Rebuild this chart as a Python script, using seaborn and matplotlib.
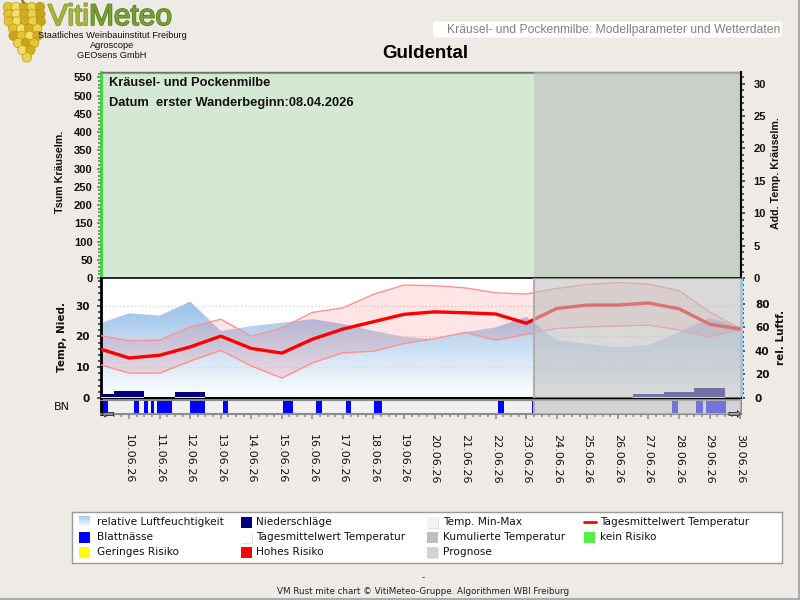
import numpy as np
import pandas as pd
import matplotlib
matplotlib.use("Agg")
import matplotlib.pyplot as plt
import seaborn as sns
from matplotlib.patches import Rectangle, FancyBboxPatch
from matplotlib.ticker import MultipleLocator
from matplotlib.lines import Line2D
from matplotlib.colors import LinearSegmentedColormap
import matplotlib.patheffects as pe

sns.set_theme(style="white")
plt.rcParams["font.family"] = ["DejaVu Sans"]

# ---------------- data ----------------
dates = ["09.06.26", "10.06.26", "11.06.26", "12.06.26", "13.06.26", "14.06.26",
         "15.06.26", "16.06.26", "17.06.26", "18.06.26", "19.06.26", "20.06.26",
         "21.06.26", "22.06.26", "23.06.26", "24.06.26", "25.06.26", "26.06.26",
         "27.06.26", "28.06.26", "29.06.26", "30.06.26"]
t_mean = [16.1, 13.0, 13.9, 16.6, 20.1, 16.1, 14.6, 19.1, 22.4, 24.8, 27.2,
          28.0, 27.7, 27.3, 24.3, 29.1, 30.2, 30.2, 30.9, 29.0, 24.0, 22.4]
t_max = [20.4, 18.6, 18.8, 23.1, 25.6, 20.1, 22.8, 27.8, 29.3, 33.7, 36.7,
         36.5, 35.8, 34.2, 33.8, 35.6, 36.9, 37.5, 37.0, 34.9, 28.0, 22.6]
t_min = [11.0, 8.1, 8.1, 12.0, 15.5, 10.4, 6.5, 11.4, 14.7, 15.2, 17.7,
         19.3, 21.3, 18.8, 20.7, 22.6, 23.1, 23.4, 23.7, 22.1, 19.9, 22.2]
humidity = [63, 72, 70, 82, 57, 61, 64, 67, 63, 57, 52,
            50, 56, 60, 69, 49, 46, 43, 45, 56, 68, 61]
precip = [1.4, 2.2, 0.0, 1.9, 0.0, 0.0, 0.0, 0.0, 0.0, 0.0, 0.0,
          0.0, 0.0, 0.0, 0.0, 0.0, 0.0, 0.0, 1.2, 1.85, 3.2, 0.0]
# leaf wetness periods (days after 09.06.26 00:00)
bn_start = [0.00, 1.15, 1.48, 1.73, 1.90, 2.99, 4.07, 6.04, 7.12, 8.10, 9.02,
            13.09, 14.20, 18.76, 19.55, 19.88]
bn_end = [0.31, 1.32, 1.62, 1.81, 2.40, 3.48, 4.23, 6.37, 7.32, 8.27, 9.28,
          13.28, 14.25, 18.96, 19.78, 20.53]
forecast_start = 14.25

days = np.arange(len(dates))
df = pd.DataFrame({"day": days, "t_mean": t_mean, "t_max": t_max,
                   "t_min": t_min, "humidity": humidity, "precip": precip})

# ---------------- style ----------------
BG = "#EEEBE7"
GREEN_FILL = "#D4E8D4"
OVER_C, OVER_A = "#C0C0C0", 0.6
XMIN, XMAX = 0.08, 21.03

fig = plt.figure(figsize=(8, 6), dpi=100, facecolor=BG)


def fx(x):
    return x / 800


def fy(y):
    return 1 - y / 600


L, R = 101, 741
ax_t = fig.add_axes([fx(L), fy(278), (R - L) / 800, 206 / 600])
ax_t2 = ax_t.twinx()
ax_m = fig.add_axes([fx(L), fy(398), (R - L) / 800, 120 / 600])
ax_h = ax_m.twinx()
ax_bn = fig.add_axes([fx(L), fy(414), (R - L) / 800, 14 / 600])

ax_m.set_zorder(3)
ax_h.set_zorder(2)
ax_m.patch.set_visible(False)
ax_h.patch.set_visible(True)
ax_h.patch.set_facecolor("white")


def style_labels(ax, axis, family, size, weight="bold", color="#111111"):
    labels = ax.get_yticklabels() if axis == "y" else ax.get_xticklabels()
    for lb in labels:
        lb.set_fontfamily(family)
        lb.set_fontsize(size)
        lb.set_fontweight(weight)
        lb.set_color(color)


# ---------------- top panel ----------------
ax_t.set_facecolor("white")
ax_t.set_xlim(XMIN, XMAX)
ax_t.set_ylim(0, 565)
ax_t2.set_ylim(0, 31.8)
ax_t.axvspan(XMIN, XMAX, color=GREEN_FILL, zorder=0, lw=0)
ax_t.axhline(561, color="#3FDC3F", lw=1.6, zorder=1)
ax_t.axvspan(forecast_start, XMAX, color=OVER_C, alpha=OVER_A, zorder=5, lw=0)
ax_t.set_xticks([])
ax_t.yaxis.set_major_locator(MultipleLocator(50))
ax_t.yaxis.set_minor_locator(MultipleLocator(10))
ax_t2.yaxis.set_major_locator(MultipleLocator(5))
ax_t2.yaxis.set_minor_locator(MultipleLocator(1))
ax_t.tick_params(axis="y", which="both", direction="out", color="#8A8A8A",
                 width=1.4, left=True)
ax_t.tick_params(axis="y", which="major", length=3, pad=3)
ax_t.tick_params(axis="y", which="minor", length=2.5)
ax_t2.tick_params(axis="y", which="both", direction="out", color="#555555",
                  width=1.4, right=True)
ax_t2.tick_params(axis="y", which="major", length=3, pad=6)
ax_t2.tick_params(axis="y", which="minor", length=2.5)
style_labels(ax_t, "y", "Liberation Sans", 8)
style_labels(ax_t2, "y", "Liberation Sans", 8)
for ax in (ax_t, ax_t2):
    for s in ax.spines.values():
        s.set_visible(False)
ax_t.spines["left"].set_visible(True)
ax_t.spines["left"].set_color("#2EE02E")
ax_t.spines["left"].set_linewidth(2)
ax_t.spines["top"].set_visible(True)
ax_t.spines["top"].set_color("#707070")
ax_t.spines["top"].set_linewidth(1)
ax_t2.spines["right"].set_visible(True)
ax_t2.spines["right"].set_color("black")
ax_t2.spines["right"].set_linewidth(1.5)

ax_t.text(0.0125, 0.945, "Kräusel- und Pockenmilbe", transform=ax_t.transAxes,
          fontfamily="Liberation Sans", fontsize=9.3, fontweight="bold",
          color="#111111", va="center", ha="left", zorder=10)
ax_t.text(0.0125, 0.848, "Datum  erster Wanderbeginn:08.04.2026",
          transform=ax_t.transAxes, fontfamily="Liberation Sans", fontsize=9.3,
          fontweight="bold", color="#111111", va="center", ha="left", zorder=10)

# ---------------- middle panel ----------------
ax_m.set_xlim(XMIN, XMAX)
ax_h.set_xlim(XMIN, XMAX)

# humidity gradient area
poly = ax_h.fill_between(df["day"], 0, df["humidity"], facecolor="none",
                         edgecolor="none")
cmap = LinearSegmentedColormap.from_list("hum", ["#FFFFFF", "#80B1E5"])
grad = np.linspace(0, 1, 256).reshape(-1, 1)
im = ax_h.imshow(grad, extent=[XMIN, XMAX, 0, 102], origin="lower",
                 aspect="auto", cmap=cmap, zorder=1, interpolation="bilinear")
im.set_clip_path(poly.get_paths()[0], transform=ax_h.transData)
ax_h.set_ylim(0, 102)
ax_h.set_xlim(XMIN, XMAX)

# grid
ax_m.set_axisbelow(True)
ax_m.set_xticks(days)
ax_m.tick_params(axis="x", length=0, labelbottom=False)
ax_m.grid(True, axis="both", color="#D6D6D6", linestyle=":", linewidth=1)

# temperature band
ax_m.fill_between(df["day"], df["t_min"], df["t_max"], color="red",
                  alpha=0.1, lw=0, zorder=2)
sns.lineplot(data=df, x="day", y="t_max", ax=ax_m, color="#FF9090", lw=1,
             zorder=3)
sns.lineplot(data=df, x="day", y="t_min", ax=ax_m, color="#FF9090", lw=1,
             zorder=3)
sns.lineplot(data=df, x="day", y="t_mean", ax=ax_m, color="#FF0000", lw=2.4,
             zorder=4)

# precipitation
ax_m.bar(df["day"], df["precip"], width=1.0, color="#000080", lw=0, zorder=5)
low_risk = np.where(df["precip"] > 0, 0.25, 0.0)
ax_m.bar(df["day"], low_risk, width=1.0, color="#FFFF40", lw=0, zorder=6)

ax_m.axvspan(forecast_start, XMAX, color=OVER_C, alpha=OVER_A, zorder=10, lw=0)
ax_m.axvline(forecast_start, color="#B0B0B0", lw=1.5, zorder=11)
ax_m.set_ylim(0, 39)
ax_m.set_xlim(XMIN, XMAX)
ax_m.set_xlabel("")
ax_m.set_ylabel("")
ax_m.set_yticks([0, 10, 20, 30])
ax_m.yaxis.set_minor_locator(MultipleLocator(2))
ax_m.tick_params(axis="y", which="both", direction="out", color="#555555",
                 width=1.4, left=True)
ax_m.tick_params(axis="y", which="major", length=3, pad=5)
ax_m.tick_params(axis="y", which="minor", length=2.5)
style_labels(ax_m, "y", "DejaVu Sans", 7.5)

ax_h.set_yticks([0, 20, 40, 60, 80])
ax_h.yaxis.set_minor_locator(MultipleLocator(4))
ax_h.tick_params(axis="y", which="both", direction="out", color="#555555",
                 width=1.4, right=True)
ax_h.tick_params(axis="y", which="major", length=3, pad=7)
ax_h.tick_params(axis="y", which="minor", length=2.5)
style_labels(ax_h, "y", "DejaVu Sans", 7.5)
ax_h.set_xticks([])

for s in ax_h.spines.values():
    s.set_visible(False)
ax_h.spines["right"].set_visible(True)
ax_h.spines["right"].set_color("#9CC3EA")
ax_h.spines["right"].set_linewidth(2.2)
ax_m.spines["right"].set_visible(False)
ax_m.spines["left"].set_color("black")
ax_m.spines["left"].set_linewidth(2)
ax_m.spines["top"].set_color("black")
ax_m.spines["top"].set_linewidth(1.2)
ax_m.spines["bottom"].set_color("black")
ax_m.spines["bottom"].set_linewidth(1.5)

# ---------------- leaf wetness strip ----------------
ax_bn.set_facecolor("#F0F0F0")
ax_bn.set_xlim(XMIN, XMAX)
ax_bn.set_ylim(0, 1)
widths = np.array(bn_end) - np.array(bn_start)
ax_bn.bar(bn_start, 0.9, width=widths, bottom=0.06, align="edge",
          color="#0000FF", lw=0, zorder=2)
ax_bn.bar(bn_start, 0.07, width=widths, bottom=0.0, align="edge",
          color="#FFFF40", lw=0, zorder=2)
ax_bn.axvspan(forecast_start, XMAX, color=OVER_C, alpha=OVER_A, zorder=5, lw=0)
ax_bn.axvline(forecast_start, color="#B0B0B0", lw=1.5, zorder=6)
ax_bn.set_yticks([])
ax_bn.set_xticks(days[1:])
ax_bn.set_xticklabels(dates[1:], rotation=-90, fontsize=8, color="#111111")
ax_bn.xaxis.set_minor_locator(MultipleLocator(0.25))
ax_bn.tick_params(axis="x", which="both", direction="out", color="#A0A0A0",
                  width=1.5, bottom=True)
ax_bn.tick_params(axis="x", which="major", length=3.5, pad=11)
ax_bn.tick_params(axis="x", which="minor", length=2)
for lb in ax_bn.get_xticklabels():
    lb.set_verticalalignment("top")
for side in ("top", "bottom", "right"):
    ax_bn.spines[side].set_color("#8C8C8C")
    ax_bn.spines[side].set_linewidth(1.5)
ax_bn.spines["left"].set_color("black")
ax_bn.spines["left"].set_linewidth(2)
ax_bn.text(0.0, 0.0, "⇦", transform=ax_bn.transAxes, fontsize=12,
           ha="left", va="center", color="#222222", zorder=8)
ax_bn.text(1.0, 0.0, "⇨", transform=ax_bn.transAxes, fontsize=12,
           ha="right", va="center", color="#222222", zorder=8)

# ---------------- axis titles ----------------
fig.text(fx(60), fy(172), "Tsum Kräuselm.", rotation=90, ha="center",
         va="center", fontfamily="Liberation Sans", fontsize=7.7,
         fontweight="bold", color="#111111")
fig.text(fx(776), fy(173), "Add. Temp. Kräuselm.", rotation=90, ha="center",
         va="center", fontfamily="Liberation Sans", fontsize=7.7,
         fontweight="bold", color="#111111")
fig.text(fx(62), fy(337), "Temp, Nied.", rotation=90, ha="center",
         va="center", fontsize=7.5, fontweight="bold", color="#111111")
fig.text(fx(781), fy(337), "rel. Luftf.", rotation=90, ha="center",
         va="center", fontsize=7.5, fontweight="bold", color="#111111")
fig.text(fx(62), fy(407), "BN", ha="center", va="center", fontsize=8,
         color="#111111")

# ---------------- header ----------------
ax_logo = fig.add_axes([0, fy(64), 50 / 800, 64 / 600])
ax_logo.set_xlim(0, 50)
ax_logo.set_ylim(64, 0)
ax_logo.axis("off")
gx, gy, gc = [], [], []
palette = ["#E3C52F", "#F4DE63", "#D2AE1F", "#EDD24A", "#C9A31C"]
row_counts = [5, 5, 5, 4, 4, 3, 2, 1]
k = 0
for i, n in enumerate(row_counts):
    y0 = 7 + i * 7.2
    x0 = 24 - (n - 1) * 4.0 + (i * 0.4)
    for j in range(n):
        gx.append(x0 + j * 8.0)
        gy.append(y0)
        gc.append(palette[k % 5])
        k += 1
ax_logo.scatter(gx, gy, s=46, c=gc, edgecolors="#B8961A", linewidths=0.5,
                clip_on=False)
ax_logo.plot([22, 24], [0, 3], color="#8A7A20", lw=1.5)

renderer = fig.canvas.get_renderer()
t_viti = fig.text(fx(48), fy(25), "Viti", fontfamily="Liberation Sans",
                  fontsize=21.5, color="#A5B83C", va="baseline", ha="left",
                  path_effects=[pe.withStroke(linewidth=1.2,
                                              foreground="#7E9230")])
bb = t_viti.get_window_extent(renderer)
fig.text(bb.x1 / 800, fy(25), "Meteo", fontfamily="Liberation Sans",
         fontsize=21.5, color="#76A032", va="baseline", ha="left",
         path_effects=[pe.withStroke(linewidth=1.2, foreground="#5A7E25")])
for txt, yy in (("Staatliches Weinbauinstitut Freiburg", 36),
                ("Agroscope", 45.5), ("GEOsens GmbH", 55)):
    fig.text(fx(112), fy(yy), txt, fontfamily="Liberation Sans", fontsize=6.7,
             ha="center", va="center", color="#111111")

fig.add_artist(FancyBboxPatch((fx(433), fy(37.5)), (782 - 433) / 800,
                              16 / 600, boxstyle="round,pad=0,rounding_size=0.004",
                              transform=fig.transFigure, facecolor="white",
                              edgecolor="none"))
fig.text(fx(780), fy(30), "Kräusel- und Pockenmilbe: Modellparameter und Wetterdaten",
         fontfamily="Liberation Sans", fontsize=8.7, color="#808080",
         ha="right", va="center")
fig.text(fx(425), fy(54), "Guldental", fontfamily="Liberation Sans",
         fontsize=13.5, fontweight="bold", color="black", ha="center",
         va="center")

# ---------------- legend ----------------
ax_leg = fig.add_axes([fx(72), fy(563), (782 - 72) / 800, 51 / 600])
ax_leg.set_xlim(72, 782)
ax_leg.set_ylim(563, 512)
ax_leg.set_xticks([])
ax_leg.set_yticks([])
ax_leg.set_facecolor("white")
for s in ax_leg.spines.values():
    s.set_color("#9A9A9A")
    s.set_linewidth(1)

rows = [522, 537, 552]
leg_fs = 7.6
legend_items = [
    (79, 97, 0, "relative Luftfeuchtigkeit", "grad"),
    (79, 97, 1, "Blattnässe", "#0000FF"),
    (79, 97, 2, "Geringes Risiko", "#FFFF00"),
    (241, 256, 0, "Niederschläge", "#000080"),
    (241, 256, 1, "Tagesmittelwert Temperatur", "white"),
    (241, 256, 2, "Hohes Risiko", "#FF0000"),
    (427, 443, 0, "Temp. Min-Max", "#F2F2F2"),
    (427, 443, 1, "Kumulierte Temperatur", "#BEBEBE"),
    (427, 443, 2, "Prognose", "#D3D3D3"),
    (584, 600, 0, "Tagesmittelwert Temperatur", "line"),
    (584, 600, 1, "kein Risiko", "#55EE44"),
]
for sx, tx, r, label, col in legend_items:
    yc = rows[r]
    if col == "grad":
        ax_leg.imshow(grad[::-1] * 0.7, extent=[sx, sx + 11, yc + 5.5, yc - 5.5],
                      cmap=cmap, vmin=0, vmax=1, aspect="auto", zorder=2)
    elif col == "line":
        ax_leg.plot([sx, sx + 12], [yc, yc], color="red", lw=2, zorder=2)
    else:
        if col in ("white", "#F2F2F2", "#D3D3D3"):
            ax_leg.add_patch(Rectangle((sx + 1, yc - 4.5), 11, 11,
                                       facecolor="#E2E2E2", edgecolor="none",
                                       zorder=1))
        ax_leg.add_patch(Rectangle((sx, yc - 5.5), 11, 11, facecolor=col,
                                   edgecolor="none", zorder=2))
    ax_leg.text(tx, yc, label, fontsize=leg_fs, color="#111111",
                ha="left", va="center")
ax_leg.set_xlim(72, 782)
ax_leg.set_ylim(563, 512)

# ---------------- footer & frame ----------------
fig.text(fx(423), fy(578), "-", fontsize=6.3, ha="center", va="center",
         color="#222222")
fig.text(fx(423), fy(591),
         "VM Rust mite chart © VitiMeteo-Gruppe. Algorithmen WBI Freiburg",
         fontsize=6.3, ha="center", va="center", color="#222222")
fig.add_artist(Line2D([fx(798.5), fx(798.5)], [0, 1], color="#ABABAB", lw=2.2,
                      transform=fig.transFigure))
fig.add_artist(Line2D([0, 1], [fy(598.5), fy(598.5)], color="#ABABAB", lw=2.2,
                      transform=fig.transFigure))

fig.savefig("out.png", dpi=100, facecolor=BG)
